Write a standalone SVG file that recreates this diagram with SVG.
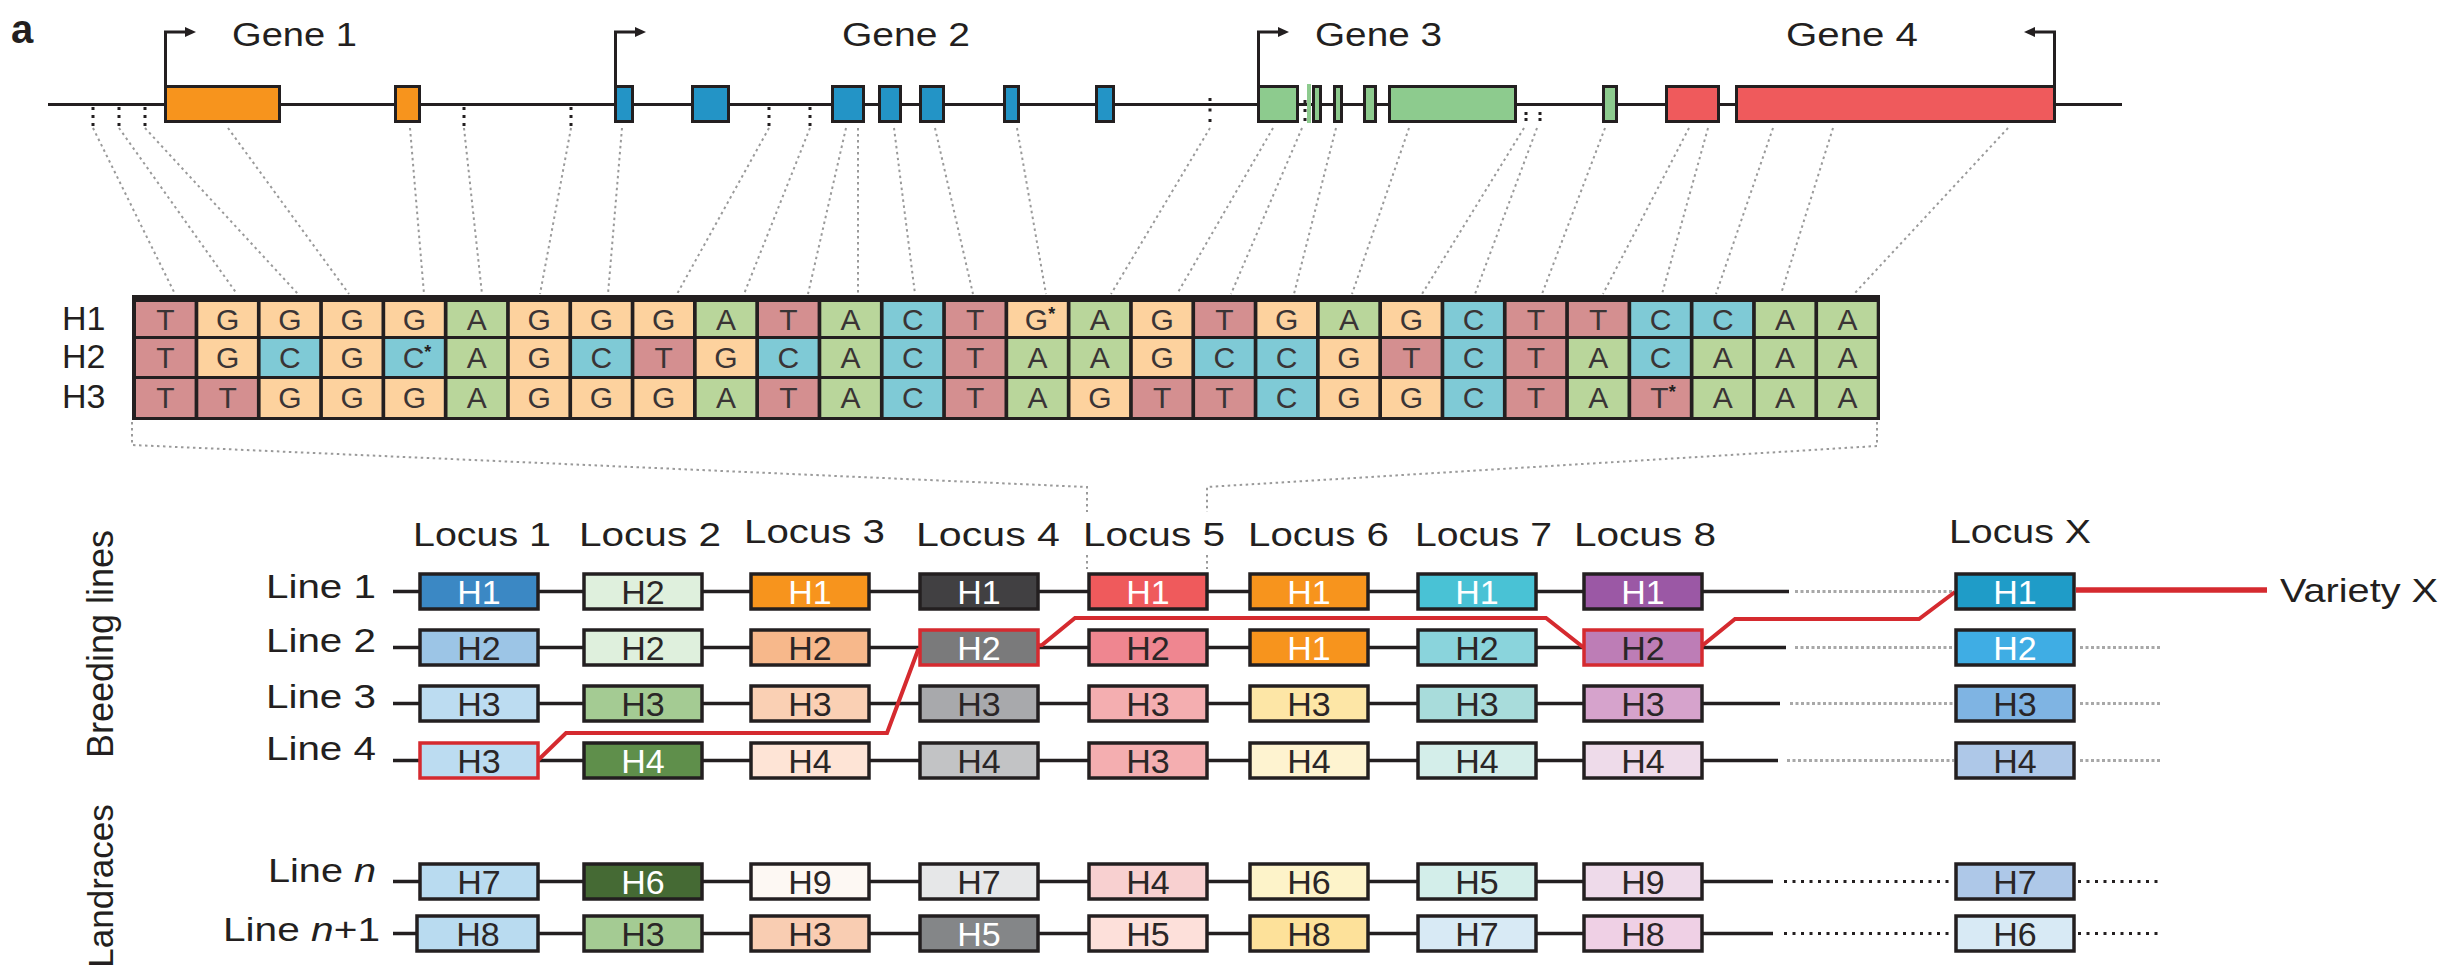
<svg xmlns="http://www.w3.org/2000/svg" width="2446" height="972" viewBox="0 0 2446 972">
<defs>
<style>
text{font-family:"Liberation Sans",Arial,sans-serif;fill:#231f20}
.lbl{font-size:34px}
.gene{font-size:33px}
.ex{stroke:#231f20;stroke-width:3}
.o{fill:#f7941d}.b{fill:#2394c6}.g{fill:#8dcb8e}.r{fill:#ef5a5c}
.mk{stroke:#231f20;stroke-width:3;stroke-dasharray:3 5;fill:none}
.prom{fill:none;stroke:#231f20;stroke-width:3}
.cn{stroke:#9a9a9a;stroke-width:2;stroke-dasharray:2.5 3.5;fill:none}
.nt{font-size:30px;text-anchor:middle;fill:#3a3435}
.st{font-size:18px;font-weight:bold;fill:#231f20}
.cT{fill:#d48f90}.cG{fill:#fdd29e}.cC{fill:#7fcad6}.cA{fill:#b9d69b}
.bx rect{stroke:#231f20;stroke-width:3.5}
.bx.hl rect{stroke:#d52a2f}
.bx text{font-size:34px;text-anchor:middle;fill:#2a2627}
.bx.w text{fill:#ffffff}
.row{stroke:#231f20;stroke-width:3.5}
.gd{stroke:#a8a8a8;stroke-width:3;stroke-dasharray:3 2.5}
.kd{stroke:#231f20;stroke-width:3;stroke-dasharray:3 5.5}
.red{stroke:#d52a2f;stroke-width:4;fill:none}
</style>
<marker id="ah" viewBox="0 0 12 12" markerUnits="userSpaceOnUse" markerWidth="12" markerHeight="12" refX="1" refY="6" orient="auto">
<path d="M0,1 L11,6 L0,11 z" fill="#231f20"/>
</marker>
</defs>
<rect width="2446" height="972" fill="#ffffff"/>

<text x="11" y="43" font-size="40" font-weight="bold">a</text>

<!-- gene track -->
<g id="gene-track">
<line x1="48" y1="104.5" x2="2122" y2="104.5" stroke="#231f20" stroke-width="3"/>
<g id="gene1">
<path class="prom" d="M165.5,86 V32 H186" marker-end="url(#ah)"/>
<rect class="ex o" x="165.5" y="86.5" width="114" height="35"/>
<rect class="ex o" x="395.5" y="86.5" width="24" height="35"/>
<text class="gene" x="232" y="46" textLength="125" lengthAdjust="spacingAndGlyphs">Gene 1</text>
</g>
<g id="gene2">
<path class="prom" d="M615.5,86 V32 H636" marker-end="url(#ah)"/>
<rect class="ex b" x="615.5" y="86.5" width="17" height="35"/>
<rect class="ex b" x="692.5" y="86.5" width="36" height="35"/>
<rect class="ex b" x="832.5" y="86.5" width="31" height="35"/>
<rect class="ex b" x="879.5" y="86.5" width="21" height="35"/>
<rect class="ex b" x="920.5" y="86.5" width="23" height="35"/>
<rect class="ex b" x="1004.5" y="86.5" width="14" height="35"/>
<rect class="ex b" x="1096.5" y="86.5" width="17" height="35"/>
<text class="gene" x="842" y="46" textLength="128" lengthAdjust="spacingAndGlyphs">Gene 2</text>
</g>
<g id="gene3">
<path class="prom" d="M1258.5,86 V32 H1279" marker-end="url(#ah)"/>
<rect class="ex g" x="1258.5" y="86.5" width="39" height="35"/>
<rect class="g" x="1307" y="84" width="4" height="39"/>
<rect class="ex g" x="1313.5" y="86.5" width="7" height="35"/>
<rect class="ex g" x="1334.5" y="86.5" width="7" height="35"/>
<rect class="ex g" x="1364.5" y="86.5" width="11" height="35"/>
<rect class="ex g" x="1389.5" y="86.5" width="126" height="35"/>
<rect class="ex g" x="1603.5" y="86.5" width="13" height="35"/>
<text class="gene" x="1315" y="46" textLength="127" lengthAdjust="spacingAndGlyphs">Gene 3</text>
</g>
<g id="gene4">
<path class="prom" d="M2054.5,86 V32 H2034" marker-end="url(#ah)"/>
<rect class="ex r" x="1666.5" y="86.5" width="52" height="35"/>
<rect class="ex r" x="1736.5" y="86.5" width="318" height="35"/>
<text class="gene" x="1786" y="46" textLength="132" lengthAdjust="spacingAndGlyphs">Gene 4</text>
</g>
<g id="snp-markers">
<path class="mk" d="M93,107 V126 M119,107 V126 M145,107 V126 M464,107 V126 M571,107 V126 M769,107 V126 M810,107 V126"/>
<path class="mk" style="stroke-dasharray:3 7.5" d="M1210,98 V123"/>
<path class="mk" style="stroke-dasharray:3 6" d="M1305,100 V122"/>
<path class="mk" style="stroke-dasharray:3 3" d="M1526,112 V122 M1540,112 V122"/>
</g>
</g>

<!-- haplotype sequence table -->
<g id="hap-table">
<text class="lbl" x="62" y="330">H1</text>
<text class="lbl" x="62" y="368">H2</text>
<text class="lbl" x="62" y="408">H3</text>
<rect x="132" y="295" width="1748" height="125" fill="#231f20"/>
<g id="hap-h1">
<rect class="cT" x="136" y="302" width="58.6" height="34"/>
<rect class="cG" x="198.3" y="302" width="58.6" height="34"/>
<rect class="cG" x="260.6" y="302" width="58.6" height="34"/>
<rect class="cG" x="322.9" y="302" width="58.6" height="34"/>
<rect class="cG" x="385.2" y="302" width="58.6" height="34"/>
<rect class="cA" x="447.5" y="302" width="58.6" height="34"/>
<rect class="cG" x="509.8" y="302" width="58.6" height="34"/>
<rect class="cG" x="572.1" y="302" width="58.6" height="34"/>
<rect class="cG" x="634.4" y="302" width="58.6" height="34"/>
<rect class="cA" x="696.7" y="302" width="58.6" height="34"/>
<rect class="cT" x="759" y="302" width="58.6" height="34"/>
<rect class="cA" x="821.3" y="302" width="58.6" height="34"/>
<rect class="cC" x="883.6" y="302" width="58.6" height="34"/>
<rect class="cT" x="945.9" y="302" width="58.6" height="34"/>
<rect class="cG" x="1008.2" y="302" width="58.6" height="34"/>
<rect class="cA" x="1070.5" y="302" width="58.6" height="34"/>
<rect class="cG" x="1132.8" y="302" width="58.6" height="34"/>
<rect class="cT" x="1195.1" y="302" width="58.6" height="34"/>
<rect class="cG" x="1257.4" y="302" width="58.6" height="34"/>
<rect class="cA" x="1319.7" y="302" width="58.6" height="34"/>
<rect class="cG" x="1382" y="302" width="58.6" height="34"/>
<rect class="cC" x="1444.3" y="302" width="58.6" height="34"/>
<rect class="cT" x="1506.6" y="302" width="58.6" height="34"/>
<rect class="cT" x="1568.9" y="302" width="58.6" height="34"/>
<rect class="cC" x="1631.2" y="302" width="58.6" height="34"/>
<rect class="cC" x="1693.5" y="302" width="58.6" height="34"/>
<rect class="cA" x="1755.8" y="302" width="58.6" height="34"/>
<rect class="cA" x="1818.1" y="302" width="58.6" height="34"/>
<text class="nt" x="165.3" y="330">T</text>
<text class="nt" x="227.6" y="330">G</text>
<text class="nt" x="289.9" y="330">G</text>
<text class="nt" x="352.2" y="330">G</text>
<text class="nt" x="414.5" y="330">G</text>
<text class="nt" x="476.8" y="330">A</text>
<text class="nt" x="539.1" y="330">G</text>
<text class="nt" x="601.4" y="330">G</text>
<text class="nt" x="663.7" y="330">G</text>
<text class="nt" x="726" y="330">A</text>
<text class="nt" x="788.3" y="330">T</text>
<text class="nt" x="850.6" y="330">A</text>
<text class="nt" x="912.9" y="330">C</text>
<text class="nt" x="975.2" y="330">T</text>
<text class="nt" x="1040" y="330">G<tspan class="st" dy="-10">*</tspan></text>
<text class="nt" x="1099.8" y="330">A</text>
<text class="nt" x="1162.1" y="330">G</text>
<text class="nt" x="1224.4" y="330">T</text>
<text class="nt" x="1286.7" y="330">G</text>
<text class="nt" x="1349" y="330">A</text>
<text class="nt" x="1411.3" y="330">G</text>
<text class="nt" x="1473.6" y="330">C</text>
<text class="nt" x="1535.9" y="330">T</text>
<text class="nt" x="1598.2" y="330">T</text>
<text class="nt" x="1660.5" y="330">C</text>
<text class="nt" x="1722.8" y="330">C</text>
<text class="nt" x="1785.1" y="330">A</text>
<text class="nt" x="1847.4" y="330">A</text>
</g>
<g id="hap-h2">
<rect class="cT" x="136" y="339" width="58.6" height="37"/>
<rect class="cG" x="198.3" y="339" width="58.6" height="37"/>
<rect class="cC" x="260.6" y="339" width="58.6" height="37"/>
<rect class="cG" x="322.9" y="339" width="58.6" height="37"/>
<rect class="cC" x="385.2" y="339" width="58.6" height="37"/>
<rect class="cA" x="447.5" y="339" width="58.6" height="37"/>
<rect class="cG" x="509.8" y="339" width="58.6" height="37"/>
<rect class="cC" x="572.1" y="339" width="58.6" height="37"/>
<rect class="cT" x="634.4" y="339" width="58.6" height="37"/>
<rect class="cG" x="696.7" y="339" width="58.6" height="37"/>
<rect class="cC" x="759" y="339" width="58.6" height="37"/>
<rect class="cA" x="821.3" y="339" width="58.6" height="37"/>
<rect class="cC" x="883.6" y="339" width="58.6" height="37"/>
<rect class="cT" x="945.9" y="339" width="58.6" height="37"/>
<rect class="cA" x="1008.2" y="339" width="58.6" height="37"/>
<rect class="cA" x="1070.5" y="339" width="58.6" height="37"/>
<rect class="cG" x="1132.8" y="339" width="58.6" height="37"/>
<rect class="cC" x="1195.1" y="339" width="58.6" height="37"/>
<rect class="cC" x="1257.4" y="339" width="58.6" height="37"/>
<rect class="cG" x="1319.7" y="339" width="58.6" height="37"/>
<rect class="cT" x="1382" y="339" width="58.6" height="37"/>
<rect class="cC" x="1444.3" y="339" width="58.6" height="37"/>
<rect class="cT" x="1506.6" y="339" width="58.6" height="37"/>
<rect class="cA" x="1568.9" y="339" width="58.6" height="37"/>
<rect class="cC" x="1631.2" y="339" width="58.6" height="37"/>
<rect class="cA" x="1693.5" y="339" width="58.6" height="37"/>
<rect class="cA" x="1755.8" y="339" width="58.6" height="37"/>
<rect class="cA" x="1818.1" y="339" width="58.6" height="37"/>
<text class="nt" x="165.3" y="368">T</text>
<text class="nt" x="227.6" y="368">G</text>
<text class="nt" x="289.9" y="368">C</text>
<text class="nt" x="352.2" y="368">G</text>
<text class="nt" x="417" y="368">C<tspan class="st" dy="-10">*</tspan></text>
<text class="nt" x="476.8" y="368">A</text>
<text class="nt" x="539.1" y="368">G</text>
<text class="nt" x="601.4" y="368">C</text>
<text class="nt" x="663.7" y="368">T</text>
<text class="nt" x="726" y="368">G</text>
<text class="nt" x="788.3" y="368">C</text>
<text class="nt" x="850.6" y="368">A</text>
<text class="nt" x="912.9" y="368">C</text>
<text class="nt" x="975.2" y="368">T</text>
<text class="nt" x="1037.5" y="368">A</text>
<text class="nt" x="1099.8" y="368">A</text>
<text class="nt" x="1162.1" y="368">G</text>
<text class="nt" x="1224.4" y="368">C</text>
<text class="nt" x="1286.7" y="368">C</text>
<text class="nt" x="1349" y="368">G</text>
<text class="nt" x="1411.3" y="368">T</text>
<text class="nt" x="1473.6" y="368">C</text>
<text class="nt" x="1535.9" y="368">T</text>
<text class="nt" x="1598.2" y="368">A</text>
<text class="nt" x="1660.5" y="368">C</text>
<text class="nt" x="1722.8" y="368">A</text>
<text class="nt" x="1785.1" y="368">A</text>
<text class="nt" x="1847.4" y="368">A</text>
</g>
<g id="hap-h3">
<rect class="cT" x="136" y="379" width="58.6" height="38"/>
<rect class="cT" x="198.3" y="379" width="58.6" height="38"/>
<rect class="cG" x="260.6" y="379" width="58.6" height="38"/>
<rect class="cG" x="322.9" y="379" width="58.6" height="38"/>
<rect class="cG" x="385.2" y="379" width="58.6" height="38"/>
<rect class="cA" x="447.5" y="379" width="58.6" height="38"/>
<rect class="cG" x="509.8" y="379" width="58.6" height="38"/>
<rect class="cG" x="572.1" y="379" width="58.6" height="38"/>
<rect class="cG" x="634.4" y="379" width="58.6" height="38"/>
<rect class="cA" x="696.7" y="379" width="58.6" height="38"/>
<rect class="cT" x="759" y="379" width="58.6" height="38"/>
<rect class="cA" x="821.3" y="379" width="58.6" height="38"/>
<rect class="cC" x="883.6" y="379" width="58.6" height="38"/>
<rect class="cT" x="945.9" y="379" width="58.6" height="38"/>
<rect class="cA" x="1008.2" y="379" width="58.6" height="38"/>
<rect class="cG" x="1070.5" y="379" width="58.6" height="38"/>
<rect class="cT" x="1132.8" y="379" width="58.6" height="38"/>
<rect class="cT" x="1195.1" y="379" width="58.6" height="38"/>
<rect class="cC" x="1257.4" y="379" width="58.6" height="38"/>
<rect class="cG" x="1319.7" y="379" width="58.6" height="38"/>
<rect class="cG" x="1382" y="379" width="58.6" height="38"/>
<rect class="cC" x="1444.3" y="379" width="58.6" height="38"/>
<rect class="cT" x="1506.6" y="379" width="58.6" height="38"/>
<rect class="cA" x="1568.9" y="379" width="58.6" height="38"/>
<rect class="cT" x="1631.2" y="379" width="58.6" height="38"/>
<rect class="cA" x="1693.5" y="379" width="58.6" height="38"/>
<rect class="cA" x="1755.8" y="379" width="58.6" height="38"/>
<rect class="cA" x="1818.1" y="379" width="58.6" height="38"/>
<text class="nt" x="165.3" y="408">T</text>
<text class="nt" x="227.6" y="408">T</text>
<text class="nt" x="289.9" y="408">G</text>
<text class="nt" x="352.2" y="408">G</text>
<text class="nt" x="414.5" y="408">G</text>
<text class="nt" x="476.8" y="408">A</text>
<text class="nt" x="539.1" y="408">G</text>
<text class="nt" x="601.4" y="408">G</text>
<text class="nt" x="663.7" y="408">G</text>
<text class="nt" x="726" y="408">A</text>
<text class="nt" x="788.3" y="408">T</text>
<text class="nt" x="850.6" y="408">A</text>
<text class="nt" x="912.9" y="408">C</text>
<text class="nt" x="975.2" y="408">T</text>
<text class="nt" x="1037.5" y="408">A</text>
<text class="nt" x="1099.8" y="408">G</text>
<text class="nt" x="1162.1" y="408">T</text>
<text class="nt" x="1224.4" y="408">T</text>
<text class="nt" x="1286.7" y="408">C</text>
<text class="nt" x="1349" y="408">G</text>
<text class="nt" x="1411.3" y="408">G</text>
<text class="nt" x="1473.6" y="408">C</text>
<text class="nt" x="1535.9" y="408">T</text>
<text class="nt" x="1598.2" y="408">A</text>
<text class="nt" x="1663" y="408">T<tspan class="st" dy="-10">*</tspan></text>
<text class="nt" x="1722.8" y="408">A</text>
<text class="nt" x="1785.1" y="408">A</text>
<text class="nt" x="1847.4" y="408">A</text>
</g>
</g>

<!-- connectors -->
<g id="connectors">
<path class="cn" d="M93,128 L175,294 M119,128 L237,294 M145,128 L298,294 M228,128 L349,294 M410,128 L424,294 M464,128 L482,294 M571,128 L540,294 M622,128 L608,294 M769,128 L677,294 M810,128 L744,294 M846,128 L808,294 M858,128 L858,294 M894,128 L915,294 M935,128 L973,294 M1017,128 L1046,294 M1210,128 L1111,294 M1273,128 L1177,294 M1302,128 L1231,294 M1336,128 L1294,294 M1409,128 L1352,294 M1524,128 L1422,294 M1537,128 L1475,294 M1605,128 L1542,294 M1689,128 L1603,294 M1708,128 L1662,294 M1773,128 L1716,294 M1833,128 L1781,294 M2008,128 L1854,294"/>
<path class="cn" d="M132,422 V445 L1087,487 V512 M1087,555 V569 M1877,422 V446 L1207,487 V512 M1207,555 V569"/>
<g id="row-lines">
<line class="row" x1="393" y1="591.5" x2="1789" y2="591.5"/>
<line class="row" x1="393" y1="647.5" x2="1786" y2="647.5"/>
<line class="row" x1="393" y1="703.5" x2="1780" y2="703.5"/>
<line class="row" x1="393" y1="760.5" x2="1778" y2="760.5"/>
<line class="row" x1="393" y1="881.5" x2="1773" y2="881.5"/>
<line class="row" x1="393" y1="933.5" x2="1773" y2="933.5"/>
<line class="gd" x1="1795" y1="591.5" x2="1954" y2="591.5"/>
<line class="gd" x1="1795" y1="647.5" x2="1954" y2="647.5"/>
<line class="gd" x1="1790" y1="703.5" x2="1954" y2="703.5"/>
<line class="gd" x1="1787" y1="760.5" x2="1954" y2="760.5"/>
<line class="gd" x1="2080" y1="647.5" x2="2162" y2="647.5"/>
<line class="gd" x1="2080" y1="703.5" x2="2162" y2="703.5"/>
<line class="gd" x1="2080" y1="760.5" x2="2162" y2="760.5"/>
<line class="kd" x1="1784" y1="881.5" x2="1952" y2="881.5"/>
<line class="kd" x1="1784" y1="933.5" x2="1952" y2="933.5"/>
<line class="kd" x1="2078" y1="881.5" x2="2162" y2="881.5"/>
<line class="kd" x1="2078" y1="933.5" x2="2162" y2="933.5"/>
</g>
<path id="selection-path" class="red" d="M530,768 L566,733 L887,733 L918,650 L1042,645 L1075,618 L1546,618 L1583,647 L1703,645 L1735,619 L1919,619 L1955,592"/>
<line x1="2076" y1="590" x2="2267" y2="590" stroke="#d52a2f" stroke-width="5.5"/>
</g>

<!-- side and column labels -->
<g id="labels">
<text transform="translate(113,644) rotate(-90)" font-size="36" text-anchor="middle">Breeding lines</text>
<text transform="translate(113,886) rotate(-90)" font-size="35" text-anchor="middle">Landraces</text>
<text class="lbl" x="413" y="546" textLength="138" lengthAdjust="spacingAndGlyphs">Locus 1</text>
<text class="lbl" x="579" y="546" textLength="142" lengthAdjust="spacingAndGlyphs">Locus 2</text>
<text class="lbl" x="744" y="543" textLength="141" lengthAdjust="spacingAndGlyphs">Locus 3</text>
<text class="lbl" x="916" y="546" textLength="144" lengthAdjust="spacingAndGlyphs">Locus 4</text>
<text class="lbl" x="1083" y="546" textLength="142" lengthAdjust="spacingAndGlyphs">Locus 5</text>
<text class="lbl" x="1248" y="546" textLength="141" lengthAdjust="spacingAndGlyphs">Locus 6</text>
<text class="lbl" x="1415" y="546" textLength="137" lengthAdjust="spacingAndGlyphs">Locus 7</text>
<text class="lbl" x="1574" y="546" textLength="142" lengthAdjust="spacingAndGlyphs">Locus 8</text>
<text class="lbl" x="1949" y="543" textLength="142" lengthAdjust="spacingAndGlyphs">Locus X</text>
<text class="lbl" x="266" y="598" textLength="110" lengthAdjust="spacingAndGlyphs">Line 1</text>
<text class="lbl" x="266" y="652" textLength="110" lengthAdjust="spacingAndGlyphs">Line 2</text>
<text class="lbl" x="266" y="708" textLength="110" lengthAdjust="spacingAndGlyphs">Line 3</text>
<text class="lbl" x="266" y="760" textLength="110" lengthAdjust="spacingAndGlyphs">Line 4</text>
<text class="lbl" x="268" y="882" textLength="108" lengthAdjust="spacingAndGlyphs">Line <tspan font-style="italic">n</tspan></text>
<text class="lbl" x="223" y="941" textLength="157" lengthAdjust="spacingAndGlyphs">Line <tspan font-style="italic">n</tspan>+1</text>
<text class="lbl" x="2280" y="602" textLength="158" lengthAdjust="spacingAndGlyphs">Variety X</text>
</g>

<!-- haplotype boxes: line 1 -->
<g id="r1-l1" class="bx w"><rect x="420" y="574" width="118" height="35" fill="#3b88c4"/><text x="479" y="603.5">H1</text></g>
<g id="r1-l2" class="bx"><rect x="584" y="574" width="118" height="35" fill="#dff0dd"/><text x="643" y="603.5">H2</text></g>
<g id="r1-l3" class="bx w"><rect x="751" y="574" width="118" height="35" fill="#f7941d"/><text x="810" y="603.5">H1</text></g>
<g id="r1-l4" class="bx w"><rect x="920" y="574" width="118" height="35" fill="#414042"/><text x="979" y="603.5">H1</text></g>
<g id="r1-l5" class="bx w"><rect x="1089" y="574" width="118" height="35" fill="#ef5a5c"/><text x="1148" y="603.5">H1</text></g>
<g id="r1-l6" class="bx w"><rect x="1250" y="574" width="118" height="35" fill="#f7941d"/><text x="1309" y="603.5">H1</text></g>
<g id="r1-l7" class="bx w"><rect x="1418" y="574" width="118" height="35" fill="#49c2d5"/><text x="1477" y="603.5">H1</text></g>
<g id="r1-l8" class="bx w"><rect x="1584" y="574" width="118" height="35" fill="#9b58a5"/><text x="1643" y="603.5">H1</text></g>
<g id="r1-lx" class="bx w"><rect x="1956" y="574" width="118" height="35" fill="#1f9cc8"/><text x="2015" y="603.5">H1</text></g>

<!-- line 2 -->
<g id="r2-l1" class="bx"><rect x="420" y="630" width="118" height="35" fill="#9cc5e6"/><text x="479" y="659.5">H2</text></g>
<g id="r2-l2" class="bx"><rect x="584" y="630" width="118" height="35" fill="#dff0dd"/><text x="643" y="659.5">H2</text></g>
<g id="r2-l3" class="bx"><rect x="751" y="630" width="118" height="35" fill="#f7b88b"/><text x="810" y="659.5">H2</text></g>
<g id="r2-l4" class="bx w hl"><rect x="920" y="630" width="118" height="35" fill="#7a7a7b"/><text x="979" y="659.5">H2</text></g>
<g id="r2-l5" class="bx"><rect x="1089" y="630" width="118" height="35" fill="#ef8690"/><text x="1148" y="659.5">H2</text></g>
<g id="r2-l6" class="bx w"><rect x="1250" y="630" width="118" height="35" fill="#f7941d"/><text x="1309" y="659.5">H1</text></g>
<g id="r2-l7" class="bx"><rect x="1418" y="630" width="118" height="35" fill="#8ad4dc"/><text x="1477" y="659.5">H2</text></g>
<g id="r2-l8" class="bx hl"><rect x="1584" y="630" width="118" height="35" fill="#bd7db6"/><text x="1643" y="659.5">H2</text></g>
<g id="r2-lx" class="bx w"><rect x="1956" y="630" width="118" height="35" fill="#3fade4"/><text x="2015" y="659.5">H2</text></g>

<!-- line 3 -->
<g id="r3-l1" class="bx"><rect x="420" y="686" width="118" height="35" fill="#bcdcf1"/><text x="479" y="715.5">H3</text></g>
<g id="r3-l2" class="bx"><rect x="584" y="686" width="118" height="35" fill="#a4cb93"/><text x="643" y="715.5">H3</text></g>
<g id="r3-l3" class="bx"><rect x="751" y="686" width="118" height="35" fill="#fad0b4"/><text x="810" y="715.5">H3</text></g>
<g id="r3-l4" class="bx"><rect x="920" y="686" width="118" height="35" fill="#a8a9ac"/><text x="979" y="715.5">H3</text></g>
<g id="r3-l5" class="bx"><rect x="1089" y="686" width="118" height="35" fill="#f4aeb0"/><text x="1148" y="715.5">H3</text></g>
<g id="r3-l6" class="bx"><rect x="1250" y="686" width="118" height="35" fill="#fde6a6"/><text x="1309" y="715.5">H3</text></g>
<g id="r3-l7" class="bx"><rect x="1418" y="686" width="118" height="35" fill="#a8dcdb"/><text x="1477" y="715.5">H3</text></g>
<g id="r3-l8" class="bx"><rect x="1584" y="686" width="118" height="35" fill="#d6a3cc"/><text x="1643" y="715.5">H3</text></g>
<g id="r3-lx" class="bx"><rect x="1956" y="686" width="118" height="35" fill="#7fb4e3"/><text x="2015" y="715.5">H3</text></g>

<!-- line 4 -->
<g id="r4-l1" class="bx hl"><rect x="420" y="743" width="118" height="35" fill="#bcdcf1"/><text x="479" y="772.5">H3</text></g>
<g id="r4-l2" class="bx w"><rect x="584" y="743" width="118" height="35" fill="#5f8f4b"/><text x="643" y="772.5">H4</text></g>
<g id="r4-l3" class="bx"><rect x="751" y="743" width="118" height="35" fill="#fee4d6"/><text x="810" y="772.5">H4</text></g>
<g id="r4-l4" class="bx"><rect x="920" y="743" width="118" height="35" fill="#c2c3c5"/><text x="979" y="772.5">H4</text></g>
<g id="r4-l5" class="bx"><rect x="1089" y="743" width="118" height="35" fill="#f4aeb0"/><text x="1148" y="772.5">H3</text></g>
<g id="r4-l6" class="bx"><rect x="1250" y="743" width="118" height="35" fill="#fef3d0"/><text x="1309" y="772.5">H4</text></g>
<g id="r4-l7" class="bx"><rect x="1418" y="743" width="118" height="35" fill="#d4eeea"/><text x="1477" y="772.5">H4</text></g>
<g id="r4-l8" class="bx"><rect x="1584" y="743" width="118" height="35" fill="#eedbea"/><text x="1643" y="772.5">H4</text></g>
<g id="r4-lx" class="bx"><rect x="1956" y="743" width="118" height="35" fill="#aec8e8"/><text x="2015" y="772.5">H4</text></g>

<!-- landrace line n -->
<g id="rn-l1" class="bx"><rect x="420" y="864" width="118" height="35" fill="#b9dbf0"/><text x="479" y="893.5">H7</text></g>
<g id="rn-l2" class="bx w"><rect x="584" y="864" width="118" height="35" fill="#456a34"/><text x="643" y="893.5">H6</text></g>
<g id="rn-l3" class="bx"><rect x="751" y="864" width="118" height="35" fill="#fdf8f3"/><text x="810" y="893.5">H9</text></g>
<g id="rn-l4" class="bx"><rect x="920" y="864" width="118" height="35" fill="#e6e7e8"/><text x="979" y="893.5">H7</text></g>
<g id="rn-l5" class="bx"><rect x="1089" y="864" width="118" height="35" fill="#f8d0d0"/><text x="1148" y="893.5">H4</text></g>
<g id="rn-l6" class="bx"><rect x="1250" y="864" width="118" height="35" fill="#fdf3c9"/><text x="1309" y="893.5">H6</text></g>
<g id="rn-l7" class="bx"><rect x="1418" y="864" width="118" height="35" fill="#d3eeea"/><text x="1477" y="893.5">H5</text></g>
<g id="rn-l8" class="bx"><rect x="1584" y="864" width="118" height="35" fill="#eedaea"/><text x="1643" y="893.5">H9</text></g>
<g id="rn-lx" class="bx"><rect x="1956" y="864" width="118" height="35" fill="#aec8e8"/><text x="2015" y="893.5">H7</text></g>

<!-- landrace line n+1 -->
<g id="rn1-l1" class="bx"><rect x="417" y="916" width="121" height="35" fill="#b9dbf0"/><text x="478" y="945.5">H8</text></g>
<g id="rn1-l2" class="bx"><rect x="584" y="916" width="118" height="35" fill="#a4cb93"/><text x="643" y="945.5">H3</text></g>
<g id="rn1-l3" class="bx"><rect x="751" y="916" width="118" height="35" fill="#f9cdb2"/><text x="810" y="945.5">H3</text></g>
<g id="rn1-l4" class="bx w"><rect x="920" y="916" width="118" height="35" fill="#848688"/><text x="979" y="945.5">H5</text></g>
<g id="rn1-l5" class="bx"><rect x="1089" y="916" width="118" height="35" fill="#fde0da"/><text x="1148" y="945.5">H5</text></g>
<g id="rn1-l6" class="bx"><rect x="1250" y="916" width="118" height="35" fill="#fde19a"/><text x="1309" y="945.5">H8</text></g>
<g id="rn1-l7" class="bx"><rect x="1418" y="916" width="118" height="35" fill="#d8eaf5"/><text x="1477" y="945.5">H7</text></g>
<g id="rn1-l8" class="bx"><rect x="1584" y="916" width="118" height="35" fill="#efd0e5"/><text x="1643" y="945.5">H8</text></g>
<g id="rn1-lx" class="bx"><rect x="1956" y="916" width="118" height="35" fill="#d8eaf5"/><text x="2015" y="945.5">H6</text></g>
</svg>
